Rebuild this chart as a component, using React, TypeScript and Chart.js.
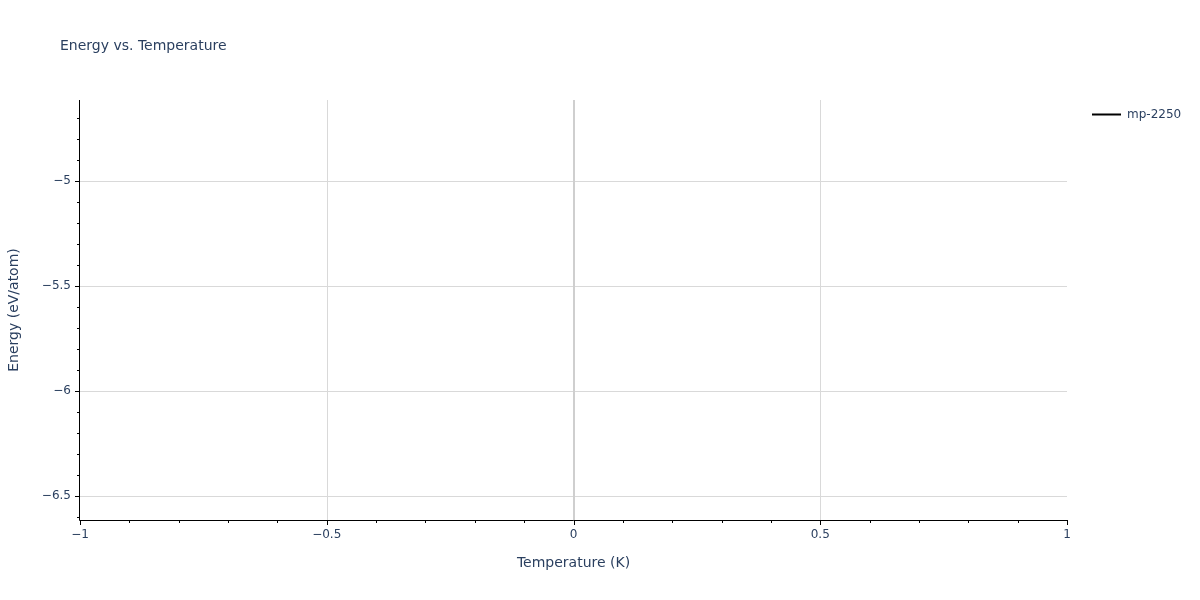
import React, { useEffect, useRef } from "react";
import { Chart, registerables } from "chart.js";

Chart.register(...registerables);

// Data (single state; no visible line)
const seriesName = "mp-2250";
const temperatures: number[] = [0];
const energies: number[] = [-5.6143];

const xTickValues = [-1, -0.5, 0, 0.5, 1];
const yTickValues = [-6.5, -6, -5.5, -5];
const xRange = [-1, 1];
const yRange = [-6.6143, -4.6143];

const TEXT = "#2a3f5f";
const FONT = "'DejaVu Sans', Verdana, sans-serif";
const GRID = "#d9d9d9";
const ZERO = "#cfcfcf";

const fmt = (v: number) => {
  const s = String(Math.round(v * 1000) / 1000);
  return s.replace("-", "\u2212");
};

const decor = {
  id: "decor",
  beforeDatasetsDraw(chart: any) {
    const { ctx, chartArea: a, scales } = chart;
    const x = scales.x, y = scales.y;
    ctx.save();
    ctx.lineWidth = 1;
    ctx.strokeStyle = GRID;
    for (const v of yTickValues) {
      const py = Math.round(y.getPixelForValue(v)) + 0.5;
      ctx.beginPath();
      ctx.moveTo(a.left, py);
      ctx.lineTo(a.right, py);
      ctx.stroke();
    }
    for (const v of xTickValues) {
      if (v === xRange[0] || v === xRange[1]) continue;
      const px = Math.round(x.getPixelForValue(v)) + 0.5;
      if (v === 0) {
        ctx.strokeStyle = ZERO;
        ctx.lineWidth = 2;
        ctx.beginPath();
        ctx.moveTo(px - 0.5, a.top);
        ctx.lineTo(px - 0.5, a.bottom);
        ctx.stroke();
        ctx.strokeStyle = GRID;
        ctx.lineWidth = 1;
      } else {
        ctx.beginPath();
        ctx.moveTo(px, a.top);
        ctx.lineTo(px, a.bottom);
        ctx.stroke();
      }
    }
    ctx.restore();
  },
  afterDraw(chart: any) {
    const { ctx, chartArea: a, scales } = chart;
    const x = scales.x, y = scales.y;
    ctx.save();
    // axis lines
    ctx.strokeStyle = "#000";
    ctx.lineWidth = 1;
    ctx.beginPath();
    ctx.moveTo(a.left - 0.5, a.top);
    ctx.lineTo(a.left - 0.5, a.bottom + 0.5);
    ctx.lineTo(a.right, a.bottom + 0.5);
    ctx.stroke();
    // x ticks: minor every 0.1, major every 0.5
    for (let i = -10; i <= 10; i++) {
      const v = i / 10;
      const px = Math.round(x.getPixelForValue(v)) + 0.5;
      const major = i % 5 === 0;
      ctx.beginPath();
      ctx.moveTo(px, a.bottom);
      ctx.lineTo(px, a.bottom + (major ? 5 : 3));
      ctx.stroke();
    }
    // y ticks
    for (let i = -66; i <= -46; i++) {
      const v = i / 10;
      if (v < yRange[0] || v > yRange[1]) continue;
      const py = Math.round(y.getPixelForValue(v)) + 0.5;
      const major = i % 5 === 0;
      ctx.beginPath();
      ctx.moveTo(a.left, py);
      ctx.lineTo(a.left - (major ? 5 : 3), py);
      ctx.stroke();
    }
    // title
    ctx.fillStyle = TEXT;
    ctx.font = `14px ${FONT}`;
    ctx.textAlign = "left";
    ctx.textBaseline = "alphabetic";
    ctx.fillText("Energy vs. Temperature", 60, 50);
    // axis titles
    ctx.font = `14px ${FONT}`;
    ctx.textAlign = "center";
    ctx.textBaseline = "middle";
    ctx.fillText("Temperature (K)", (a.left + a.right) / 2, 563);
    ctx.save();
    ctx.translate(14, (a.top + a.bottom) / 2);
    ctx.rotate(-Math.PI / 2);
    ctx.fillText("Energy (eV/atom)", 0, 0);
    ctx.restore();
    // legend
    ctx.strokeStyle = "#000";
    ctx.lineWidth = 2;
    ctx.beginPath();
    ctx.moveTo(1092, 114.5);
    ctx.lineTo(1121, 114.5);
    ctx.stroke();
    ctx.font = `12px ${FONT}`;
    ctx.textAlign = "left";
    ctx.textBaseline = "middle";
    ctx.fillText(seriesName, 1127, 115);
    ctx.restore();
  },
};

export default function App() {
  const ref = useRef<HTMLCanvasElement>(null);
  useEffect(() => {
    document.body.style.margin = "0";
    const chart = new Chart(ref.current!, {
      type: "scatter",
      data: {
        datasets: [
          {
            label: seriesName,
            data: temperatures.map((t, i) => ({ x: t, y: energies[i] })),
            showLine: true,
            borderColor: "#000",
            backgroundColor: "#000",
            borderWidth: 2,
            pointRadius: 0,
          },
        ],
      },
      options: {
        animation: false,
        responsive: false,
        devicePixelRatio: 1,
        layout: { padding: { top: 100, right: 133, left: 0, bottom: 0 } },
        plugins: { legend: { display: false }, title: { display: false }, tooltip: { enabled: false } },
        scales: {
          x: {
            type: "linear",
            min: xRange[0],
            max: xRange[1],
            border: { display: false },
            grid: { display: false, drawTicks: false },
            afterFit: (s: any) => { s.height = 80; },
            afterBuildTicks: (s: any) => { s.ticks = xTickValues.map((v) => ({ value: v })); },
            ticks: {
              padding: 8,
              color: TEXT,
              font: { family: FONT, size: 12 },
              maxRotation: 0,
              autoSkip: false,
              callback: (v: any) => fmt(Number(v)),
            },
          },
          y: {
            type: "linear",
            min: yRange[0],
            max: yRange[1],
            border: { display: false },
            grid: { display: false, drawTicks: false },
            afterFit: (s: any) => { s.width = 80; },
            afterBuildTicks: (s: any) => { s.ticks = yTickValues.map((v) => ({ value: v })); },
            ticks: {
              padding: 9,
              color: TEXT,
              font: { family: FONT, size: 12 },
              autoSkip: false,
              callback: (v: any) => fmt(Number(v)),
            },
          },
        },
      },
      plugins: [decor],
    });
    return () => chart.destroy();
  }, []);
  return (
    <div style={{ position: "absolute", left: 0, top: 0, width: 1200, height: 600, background: "#fff" }}>
      <canvas ref={ref} width={1200} height={600} />
    </div>
  );
}
